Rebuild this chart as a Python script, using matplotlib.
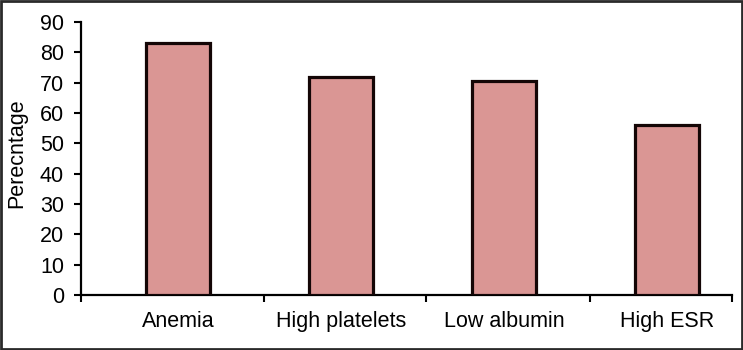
import matplotlib
matplotlib.use("Agg")
import matplotlib.pyplot as plt
from matplotlib.patches import Rectangle

categories = ["Anemia", "High platelets", "Low albumin", "High ESR"]
values = [83, 72, 70.7, 56]
y_ticks = [0, 10, 20, 30, 40, 50, 60, 70, 80, 90]

plt.rcParams["font.family"] = ["Liberation Sans", "DejaVu Sans"]

fig = plt.figure(figsize=(7.43, 3.5), dpi=100)
ax = fig.add_axes([0.1086, 0.1571, 0.8762, 0.78])

x = list(range(len(categories)))
ax.bar(x, values, width=0.396, color="#DA9694", edgecolor="#140606",
       linewidth=2.3, zorder=3)

ax.set_xlim(-0.597, 3.397)
ax.set_ylim(0, 90)
ax.set_yticks(y_ticks)
ax.set_yticklabels([str(t) for t in y_ticks])

# category labels under the bars, separator ticks between categories
ax.set_xticks(x)
ax.set_xticklabels(categories)
ax.set_xticks([-0.597, 0.53, 1.52, 2.53, 3.397], minor=True)
ax.tick_params(axis="x", which="major", length=0, pad=11.5, labelsize=15.5)
ax.tick_params(axis="x", which="minor", length=5, width=1.5, direction="out")
ax.tick_params(axis="y", length=5, width=1.5, direction="out", pad=7,
               labelsize=15.5)

for side in ("top", "right"):
    ax.spines[side].set_visible(False)
for side in ("left", "bottom"):
    ax.spines[side].set_linewidth(1.6)
    ax.spines[side].set_color("black")

ax.set_ylabel("Perecntage", fontsize=15.5)
ax.yaxis.set_label_coords(-0.082, 0.52)

fig.patches.append(Rectangle((0.0015, 0.003), 0.997, 0.994,
                             transform=fig.transFigure, fill=False,
                             edgecolor="#2a2a2a", linewidth=2))

fig.savefig("out.png", dpi=100)
